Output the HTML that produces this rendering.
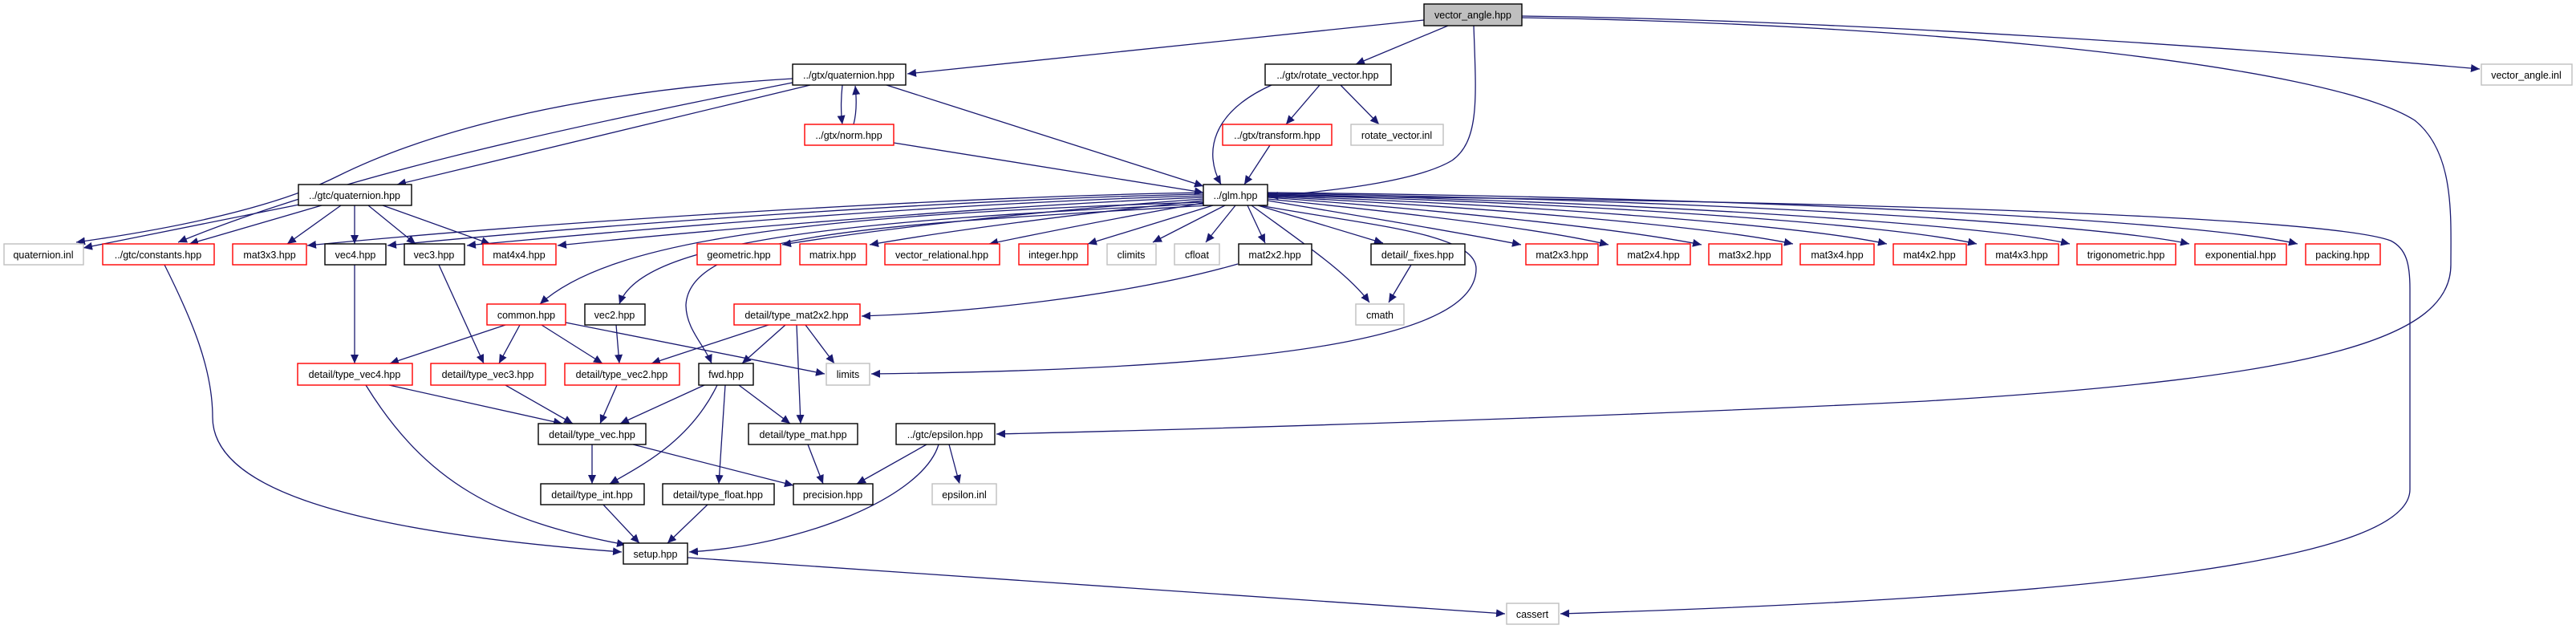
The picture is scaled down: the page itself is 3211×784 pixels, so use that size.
<!DOCTYPE html>
<html><head><meta charset="utf-8"><style>html,body{margin:0;padding:0;background:#fff}svg{display:block}text{font-family:"Liberation Sans",sans-serif;font-size:12.5px;text-anchor:middle;fill:#000}.b{fill:#fff;stroke:#000;stroke-width:1.4}.r{fill:#fff;stroke:#ff0000;stroke-width:1.4}.g{fill:#fff;stroke:#bfbfbf;stroke-width:1.4}.e{fill:none;stroke:#191970;stroke-width:1.3;marker-end:url(#a)}</style></head><body>
<svg width="3211" height="784" viewBox="0 0 3211 784" xmlns="http://www.w3.org/2000/svg">
<defs><marker id="a" markerUnits="userSpaceOnUse" markerWidth="12" markerHeight="10" refX="11" refY="5" orient="auto"><path d="M0,0 L11,5 L0,10 z" fill="#191970"/></marker></defs>
<g>
<path class="e" d="M1775,25 L1131,92"/>
<path class="e" d="M1805,32 L1690,80"/>
<path class="e" d="M1837,32 C1840,120 1845,175 1810,200 C1760,230 1630,240 1582,245"/>
<path class="e" d="M1897,20 C2300,25 2800,60 3091,86"/>
<path class="e" d="M1897,22 C2400,30 2900,80 3010,150 C3060,190 3055,270 3055,330 C3055,420 2900,470 2400,500 C2000,520 1500,535 1242,541"/>
<path class="e" d="M988,98 C700,115 520,170 420,220 C330,265 180,290 95,302"/>
<path class="e" d="M988,103 C700,160 420,220 222,302"/>
<path class="e" d="M1010,106 L495,230"/>
<path class="e" d="M1050,106 C1048,125 1048,140 1050,155"/>
<path class="e" d="M1064,155 C1068,140 1068,125 1066,107"/>
<path class="e" d="M1105,106 L1500,232"/>
<path class="e" d="M1114,178 L1500,240"/>
<path class="e" d="M1585,106 C1510,140 1500,190 1522,230"/>
<path class="e" d="M1645,106 L1603,155"/>
<path class="e" d="M1671,106 L1719,155"/>
<path class="e" d="M1583,181 L1551,230"/>
<path class="e" d="M373,255 L104,309"/>
<path class="e" d="M401,256 L236,304"/>
<path class="e" d="M425,256 L358,304"/>
<path class="e" d="M442,256 L442,304"/>
<path class="e" d="M459,256 L518,304"/>
<path class="e" d="M477,256 L611,304"/>
<path class="e" d="M1500,240 C1200,245 700,275 383,306"/>
<path class="e" d="M1500,242 C1200,248 750,280 483,306"/>
<path class="e" d="M1500,244 C1200,252 800,285 582,306"/>
<path class="e" d="M1500,246 C1250,256 900,285 695,306"/>
<path class="e" d="M1500,248 C1300,262 1100,285 975,305"/>
<path class="e" d="M1500,250 C1350,266 1200,285 1084,305"/>
<path class="e" d="M1505,252 C1400,270 1300,290 1233,304"/>
<path class="e" d="M1512,256 L1356,304"/>
<path class="e" d="M1527,256 L1437,302"/>
<path class="e" d="M1540,256 L1503,302"/>
<path class="e" d="M1555,256 L1577,303"/>
<path class="e" d="M1568,256 L1724,303"/>
<path class="e" d="M1580,250 C1700,270 1820,290 1896,305"/>
<path class="e" d="M1580,248 C1750,265 1920,285 2005,305"/>
<path class="e" d="M1580,246 C1800,262 2020,285 2121,305"/>
<path class="e" d="M1580,245 C1850,258 2130,282 2235,304"/>
<path class="e" d="M1580,244 C1900,255 2240,280 2352,304"/>
<path class="e" d="M1580,243 C1950,252 2350,278 2464,304"/>
<path class="e" d="M1580,242 C2000,250 2470,278 2580,304"/>
<path class="e" d="M1580,241 C2100,248 2610,278 2729,304"/>
<path class="e" d="M1580,240 C2200,246 2740,275 2864,304"/>
<path class="e" d="M1580,244 C2300,250 2900,270 2980,300 C3000,310 3004,330 3004,360 L3004,610 C3004,700 2600,745 1945,765"/>
<path class="e" d="M1500,252 C1000,268 760,300 673,379"/>
<path class="e" d="M1502,254 C1050,275 800,300 772,379"/>
<path class="e" d="M1506,256 C1100,280 860,290 855,380 C855,410 878,430 887,453"/>
<path class="e" d="M1560,256 C1620,300 1680,340 1707,377"/>
<path class="e" d="M1759,330 L1731,377"/>
<path class="e" d="M1570,256 C1700,280 1840,290 1840,335 C1840,420 1600,460 1086,466"/>
<path class="e" d="M1543,329 C1400,370 1200,390 1074,394"/>
<path class="e" d="M857,695 L1876,765"/>
<path class="e" d="M442,330 L442,453"/>
<path class="e" d="M547,330 L603,453"/>
<path class="e" d="M630,405 L486,453"/>
<path class="e" d="M648,405 L622,453"/>
<path class="e" d="M675,405 L751,453"/>
<path class="e" d="M705,402 L1028,466"/>
<path class="e" d="M768,405 L772,453"/>
<path class="e" d="M958,405 L812,453"/>
<path class="e" d="M979,405 L925,453"/>
<path class="e" d="M993,405 L998,528"/>
<path class="e" d="M1004,405 L1040,453"/>
<path class="e" d="M205,330 C240,400 265,460 265,520 C265,600 400,660 775,688"/>
<path class="e" d="M485,480 L701,528"/>
<path class="e" d="M456,480 C530,600 620,650 780,679"/>
<path class="e" d="M630,480 L714,528"/>
<path class="e" d="M769,480 L748,528"/>
<path class="e" d="M878,480 L773,528"/>
<path class="e" d="M894,480 C860,550 800,580 760,603"/>
<path class="e" d="M904,480 L896,603"/>
<path class="e" d="M921,480 L985,528"/>
<path class="e" d="M738,554 L738,603"/>
<path class="e" d="M789,554 L989,605"/>
<path class="e" d="M1007,554 L1026,603"/>
<path class="e" d="M752,629 L797,677"/>
<path class="e" d="M882,629 L832,677"/>
<path class="e" d="M1155,554 L1068,603"/>
<path class="e" d="M1170,554 C1150,620 1000,680 859,688"/>
<path class="e" d="M1183,554 L1196,603"/>
</g>
<g>
<rect x="1775" y="5" width="122" height="27" fill="#bfbfbf" stroke="#000" stroke-width="1.4"/><text x="1836" y="23">vector_angle.hpp</text>
<rect class="b" x="988" y="80" width="141" height="26"/><text x="1058" y="98">../gtx/quaternion.hpp</text>
<rect class="b" x="1577" y="80" width="157" height="26"/><text x="1655" y="98">../gtx/rotate_vector.hpp</text>
<rect class="g" x="3093" y="80" width="113" height="26"/><text x="3149" y="98">vector_angle.inl</text>
<rect class="r" x="1003" y="155" width="111" height="26"/><text x="1058" y="173">../gtx/norm.hpp</text>
<rect class="r" x="1524" y="155" width="136" height="26"/><text x="1592" y="173">../gtx/transform.hpp</text>
<rect class="g" x="1684" y="155" width="115" height="26"/><text x="1741" y="173">rotate_vector.inl</text>
<rect class="b" x="372" y="230" width="141" height="26"/><text x="442" y="248">../gtc/quaternion.hpp</text>
<rect class="b" x="1500" y="230" width="80" height="26"/><text x="1540" y="248">../glm.hpp</text>
<rect class="g" x="5" y="304" width="99" height="26"/><text x="54" y="322">quaternion.inl</text>
<rect class="r" x="128" y="304" width="139" height="26"/><text x="197" y="322">../gtc/constants.hpp</text>
<rect class="r" x="290" y="304" width="92" height="26"/><text x="336" y="322">mat3x3.hpp</text>
<rect class="b" x="405" y="304" width="76" height="26"/><text x="443" y="322">vec4.hpp</text>
<rect class="b" x="504" y="304" width="75" height="26"/><text x="541" y="322">vec3.hpp</text>
<rect class="r" x="602" y="304" width="91" height="26"/><text x="647" y="322">mat4x4.hpp</text>
<rect class="r" x="869" y="304" width="104" height="26"/><text x="921" y="322">geometric.hpp</text>
<rect class="r" x="997" y="304" width="83" height="26"/><text x="1038" y="322">matrix.hpp</text>
<rect class="r" x="1103" y="304" width="143" height="26"/><text x="1174" y="322">vector_relational.hpp</text>
<rect class="r" x="1270" y="304" width="86" height="26"/><text x="1313" y="322">integer.hpp</text>
<rect class="g" x="1380" y="304" width="61" height="26"/><text x="1410" y="322">climits</text>
<rect class="g" x="1464" y="304" width="56" height="26"/><text x="1492" y="322">cfloat</text>
<rect class="b" x="1544" y="304" width="91" height="26"/><text x="1589" y="322">mat2x2.hpp</text>
<rect class="b" x="1709" y="304" width="117" height="26"/><text x="1767" y="322">detail/_fixes.hpp</text>
<rect class="r" x="1902" y="304" width="90" height="26"/><text x="1947" y="322">mat2x3.hpp</text>
<rect class="r" x="2016" y="304" width="91" height="26"/><text x="2061" y="322">mat2x4.hpp</text>
<rect class="r" x="2130" y="304" width="91" height="26"/><text x="2175" y="322">mat3x2.hpp</text>
<rect class="r" x="2244" y="304" width="92" height="26"/><text x="2290" y="322">mat3x4.hpp</text>
<rect class="r" x="2360" y="304" width="91" height="26"/><text x="2405" y="322">mat4x2.hpp</text>
<rect class="r" x="2475" y="304" width="91" height="26"/><text x="2520" y="322">mat4x3.hpp</text>
<rect class="r" x="2589" y="304" width="123" height="26"/><text x="2650" y="322">trigonometric.hpp</text>
<rect class="r" x="2736" y="304" width="114" height="26"/><text x="2793" y="322">exponential.hpp</text>
<rect class="r" x="2874" y="304" width="93" height="26"/><text x="2920" y="322">packing.hpp</text>
<rect class="r" x="607" y="379" width="98" height="26"/><text x="656" y="397">common.hpp</text>
<rect class="b" x="729" y="379" width="75" height="26"/><text x="766" y="397">vec2.hpp</text>
<rect class="r" x="915" y="379" width="157" height="26"/><text x="993" y="397">detail/type_mat2x2.hpp</text>
<rect class="g" x="1690" y="379" width="60" height="26"/><text x="1720" y="397">cmath</text>
<rect class="r" x="371" y="453" width="143" height="27"/><text x="442" y="471">detail/type_vec4.hpp</text>
<rect class="r" x="537" y="453" width="143" height="27"/><text x="608" y="471">detail/type_vec3.hpp</text>
<rect class="r" x="704" y="453" width="143" height="27"/><text x="775" y="471">detail/type_vec2.hpp</text>
<rect class="b" x="871" y="453" width="68" height="27"/><text x="905" y="471">fwd.hpp</text>
<rect class="g" x="1030" y="453" width="54" height="27"/><text x="1057" y="471">limits</text>
<rect class="b" x="671" y="528" width="134" height="26"/><text x="738" y="546">detail/type_vec.hpp</text>
<rect class="b" x="933" y="528" width="136" height="26"/><text x="1001" y="546">detail/type_mat.hpp</text>
<rect class="b" x="1117" y="528" width="123" height="26"/><text x="1178" y="546">../gtc/epsilon.hpp</text>
<rect class="b" x="674" y="603" width="129" height="26"/><text x="738" y="621">detail/type_int.hpp</text>
<rect class="b" x="826" y="603" width="139" height="26"/><text x="895" y="621">detail/type_float.hpp</text>
<rect class="b" x="989" y="603" width="99" height="26"/><text x="1038" y="621">precision.hpp</text>
<rect class="g" x="1162" y="603" width="80" height="26"/><text x="1202" y="621">epsilon.inl</text>
<rect class="b" x="777" y="677" width="80" height="26"/><text x="817" y="695">setup.hpp</text>
<rect class="g" x="1878" y="752" width="65" height="26"/><text x="1910" y="770">cassert</text>
</g>
</svg>
</body></html>
